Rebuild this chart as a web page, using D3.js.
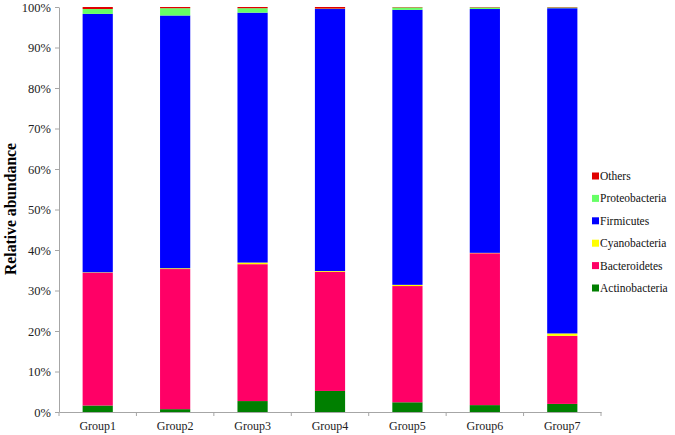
<!DOCTYPE html>
<html><head><meta charset="utf-8">
<script src="https://cdn.jsdelivr.net/npm/d3@7"></script>
<style>body{margin:0;background:#fff}svg{display:block}text{font-family:"Liberation Serif","Times New Roman",serif}</style>
</head><body><svg id="c" width="675" height="435"></svg>
<script>
const groups = ["Group1","Group2","Group3","Group4","Group5","Group6","Group7"];
const seriesNames = ["Actinobacteria","Bacteroidetes","Cyanobacteria","Firmicutes","Proteobacteria","Others"];
const actinobacteria = [1.6, 0.7, 2.7, 5.2, 2.4, 1.7, 2.0];
const bacteroidetes  = [32.8, 34.6, 33.8, 29.4, 28.7, 37.5, 16.8];
const cyanobacteria  = [0.1, 0.2, 0.4, 0.2, 0.3, 0.1, 0.6];
const firmicutes     = [63.8, 62.4, 61.7, 64.7, 67.9, 60.2, 80.3];
const proteobacteria = [1.2, 1.8, 1.1, 0.1, 0.6, 0.4, 0.2];
const others         = [0.5, 0.3, 0.3, 0.4, 0.1, 0.1, 0.1];
const yTicks = [0,10,20,30,40,50,60,70,80,90,100];
const colors = ["#007f00","#ff0066","#ffff00","#0000ff","#66ff66","#e00000"];

const seriesVals = [actinobacteria,bacteroidetes,cyanobacteria,firmicutes,proteobacteria,others];
const rows = groups.map((g,i)=>{const r={group:g}; seriesNames.forEach((s,j)=>r[s]=seriesVals[j][i]); return r;});
const stack = d3.stack().keys(seriesNames)(rows);

const svg = d3.select("#c");
const x = d3.scaleBand().domain(groups).range([59,601]).paddingInner(0.61).paddingOuter(0.305);
const y = d3.scaleLinear().domain([0,100]).range([412,7]);
const axisColor = "#a6a6a6";

const g = svg.append("g");
stack.forEach((layer,j)=>{
  g.selectAll(null).data(layer).enter().append("rect")
   .attr("x",d=>x(d.data.group)).attr("width",x.bandwidth())
   .attr("y",d=>y(d[1])).attr("height",d=>Math.max(0,y(d[0])-y(d[1])))
   .attr("fill",colors[j]);
});

// y axis
const ya = svg.append("g").attr("transform","translate(59,0)")
  .call(d3.axisLeft(y).tickValues(yTicks).tickFormat(d=>d+"%").tickSize(4).tickSizeOuter(0));
ya.select(".domain").attr("stroke",axisColor);
ya.selectAll(".tick line").attr("stroke",axisColor);
ya.selectAll(".tick text").attr("font-size",12.5).attr("fill","#222").attr("x",-8)
  .style("font-family","'Liberation Serif',serif");

// x axis
const xa = svg.append("g").attr("transform","translate(0,412)")
  .call(d3.axisBottom(x).tickSize(0).tickSizeOuter(0));
xa.select(".domain").attr("stroke",axisColor);
xa.selectAll(".tick text").attr("font-size",12).attr("fill","#222").attr("dy",0).attr("y",18)
  .style("font-family","'Liberation Serif',serif");
const step = x.step();
const bounds = d3.range(groups.length+1).map(i=>59+i*step);
svg.append("g").selectAll("line").data(bounds).enter().append("line")
  .attr("x1",d=>d).attr("x2",d=>d).attr("y1",412).attr("y2",416).attr("stroke",axisColor);

// y label
svg.append("text").attr("transform","translate(16,209) rotate(-90)")
  .attr("text-anchor","middle").attr("font-size",15.7).attr("font-weight","bold").attr("fill","#000")
  .text("Relative abundance");

// legend
const legendOrder = seriesNames.slice().reverse();
const lg = svg.append("g");
legendOrder.forEach((s,i)=>{
  const cy = 176 + i*22.4;
  lg.append("rect").attr("x",592).attr("y",cy-3.5).attr("width",7).attr("height",7)
    .attr("fill",colors[seriesNames.indexOf(s)]);
  lg.append("text").attr("x",600).attr("y",cy+4).attr("font-size",11.5).attr("fill","#111").text(s);
});
</script></body></html>
